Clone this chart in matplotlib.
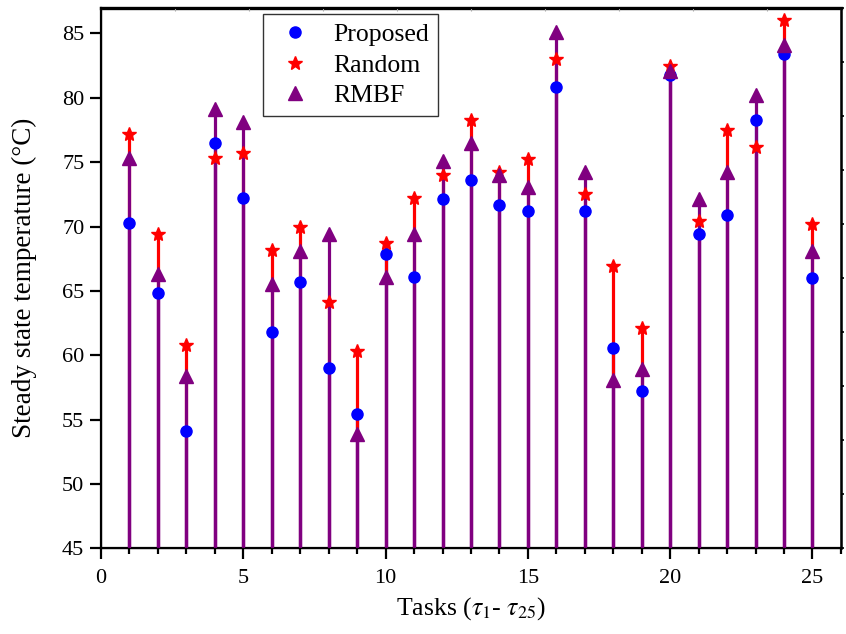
import matplotlib
matplotlib.use("Agg")
import matplotlib.pyplot as plt
import numpy as np

plt.rcParams['font.family'] = ['Liberation Serif', 'DejaVu Serif']
plt.rcParams['mathtext.fontset'] = 'stix'

# -----------------------------
# DADOS
# -----------------------------
tarefas = np.arange(1, 26)

proposed = [70.3, 64.8, 54.1, 76.5, 72.2, 61.8, 65.7, 59.0, 55.4, 67.9,
            66.1, 72.1, 73.6, 71.7, 71.2, 80.85, 71.2, 60.55, 57.2, 81.8,
            69.4, 70.9, 78.3, 83.4, 66.0]
random_ = [77.2, 69.4, 60.8, 75.3, 75.7, 68.2, 70.0, 64.1, 60.3, 68.7,
           72.2, 74.0, 78.25, 74.2, 75.25, 83.0, 72.5, 66.9, 62.1, 82.45,
           70.4, 77.5, 76.2, 86.0, 70.2]
rmbf = [75.3, 66.3, 58.4, 79.1, 78.1, 65.5, 68.1, 69.4, 53.9, 66.1,
        69.4, 75.1, 76.5, 74.0, 73.1, 85.1, 74.2, 58.1, 58.9, 82.1,
        72.1, 74.2, 80.25, 84.1, 68.1]

base = 45

# -----------------------------
# FIGURA
# -----------------------------
fig = plt.figure(figsize=(8.46, 6.34), dpi=100)
ax = fig.add_axes([0.1194, 0.135, 0.8746, 0.853])

ax.vlines(tarefas, base, proposed, color='blue', lw=2.3, zorder=1)
ax.vlines(tarefas, base, random_, color='red', lw=2.3, zorder=2)
ax.vlines(tarefas, base, rmbf, color='purple', lw=2.3, zorder=3)

ax.plot(tarefas, proposed, 'o', color='blue', ms=8, ls='none',
        label='Proposed', zorder=4)
ax.plot(tarefas, random_, '*', color='red', ms=10.5, ls='none',
        label='Random', zorder=5)
ax.plot(tarefas, rmbf, '^', color='purple', ms=9.5, ls='none',
        label='RMBF', zorder=6)

ax.set_xlim(0, 26)
ax.set_ylim(45, 87)
ax.set_xticks(np.arange(0, 26, 5))
ax.set_xticks(np.arange(0, 27, 1), minor=True)
ax.set_yticks(np.arange(45, 86, 5))

ax.tick_params(axis='both', which='major', direction='out', length=8,
               width=1.6, labelsize=16)
ax.tick_params(axis='x', which='minor', direction='out', length=4, width=1.6)
ax.tick_params(axis='x', pad=7)
ax.tick_params(axis='y', pad=4)

for lado in ['left', 'bottom']:
    ax.spines[lado].set_linewidth(1.6)
ax.spines['top'].set_linewidth(2.4)
ax.spines['right'].set_linewidth(1.8)

ax.set_xlabel(r"Tasks ($\tau_\mathit{1}$- $\tau_\mathit{25}$)", fontsize=18.5,
              labelpad=5)
ax.set_ylabel("Steady state temperature (°C)", fontsize=19.5, labelpad=18)

# eixos secundarios (so marcas)
ax_dir = ax.twinx()
ax_dir.set_ylim(0, 10)
ax_dir.set_yticks(np.arange(0, 11, 1))
ax_dir.set_yticklabels([])
ax_dir.tick_params(axis='y', direction='out', length=2.5, width=1.2)

ax_topo = ax.twiny()
ax_topo.set_xlim(0, 10)
ax_topo.set_xticks(np.arange(0, 11, 1))
ax_topo.set_xticklabels([])
ax_topo.tick_params(axis='x', direction='in', length=2.5, width=0.8,
                    color='#aaaaaa')

leg = ax.legend(loc='upper left', bbox_to_anchor=(0.219, 0.988),
                fontsize=18.5, frameon=True, fancybox=False, edgecolor='black',
                handletextpad=0.6, borderpad=0.35, labelspacing=0.3,
                handlelength=1.8, borderaxespad=0)
leg.get_frame().set_linewidth(1.0)

fig.savefig("out.png", dpi=100)
